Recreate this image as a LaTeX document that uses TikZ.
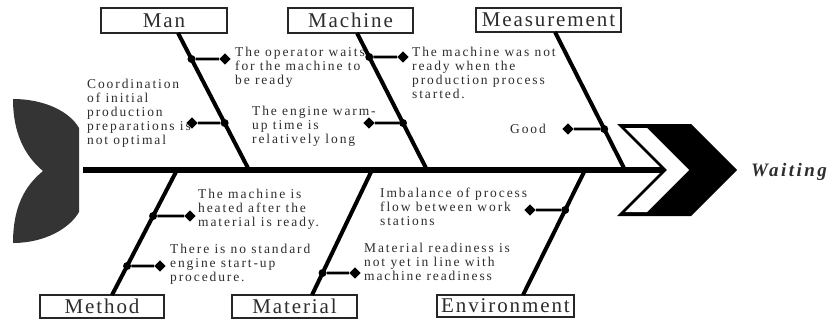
\documentclass[tikz,border=0pt]{standalone}
\usepackage{fontspec}
\setmainfont{Liberation Serif}
\newfontfamily\annfont[LetterSpace=14]{Liberation Serif}
\newfontfamily\labfont[LetterSpace=9]{Liberation Serif}
\newfontfamily\effectfont[LetterSpace=13]{Liberation Serif}
\usetikzlibrary{shapes.geometric,calc}
\definecolor{tailgray}{RGB}{52,52,52}
\definecolor{txtgray}{RGB}{45,45,45}
\tikzset{
  spine/.style={line width=5.5pt},
  bone/.style={line width=4pt},
  twig/.style={line width=2.6pt},
  jdot/.style={circle, fill=black, minimum size=8pt, inner sep=0pt},
  dmd/.style={diamond, fill=black, minimum width=11.5pt, minimum height=11.5pt, inner sep=0pt},
  catbox/.style={draw=black!85, line width=1.3pt, fill=white, inner sep=0pt, text=txtgray,
    font=\labfont\fontsize{21}{24}\selectfont},
  note/.style={anchor=north west, align=left, inner sep=0pt, text=txtgray,
    font=\annfont\fontsize{13.5}{14}\selectfont},
  effectlabel/.style={anchor=base west, inner sep=0pt, text=txtgray,
    font=\effectfont\bfseries\itshape\fontsize{19}{22}\selectfont}
}
\begin{document}
\begin{tikzpicture}[x=1pt,y=-1pt]
\useasboundingbox (0,0) rectangle (832,322);

% tail
\fill[tailgray] (13,99) .. controls (45,99) and (70,112) .. (79,128) -- (79,212)
  .. controls (70,228) and (45,243) .. (13,243)
  .. controls (13,200) and (30,182) .. (43,171)
  .. controls (30,160) and (13,140) .. cycle;

% spine
\coordinate (sp0) at (83,170);
\coordinate (sp1) at (664,170);
\draw[spine] (sp0) -- (sp1);

% head chevrons
\fill (617,124) -- (691,124) -- (737,170) -- (691,216) -- (617,216) -- (663,170) -- cycle;
\fill[white] (625,128) -- (647,128) -- (689,170) -- (647,212) -- (625,212) -- (667,170) -- cycle;
\node[effectlabel] (effect) at (751,176) {Waiting};

% category boxes
\node[catbox, minimum width=126pt, minimum height=25pt] (man) at (164,20.5) {Man};
\node[catbox, minimum width=125pt, minimum height=25pt] (machine) at (350.5,20.5) {Machine};
\node[catbox, minimum width=145pt, minimum height=24pt] (meas) at (548.5,20) {Measurement};
\node[catbox, minimum width=124pt, minimum height=23pt] (method) at (102,306.5) {Method};
\node[catbox, minimum width=125pt, minimum height=23pt] (material) at (294.5,306.5) {Material};
\node[catbox, minimum width=137pt, minimum height=22pt] (env) at (505.5,306) {Environment};

% bone end points
\coordinate (manT) at (178,33);   \coordinate (manS) at (249,170);
\coordinate (macT) at (357,33);   \coordinate (macS) at (427,170);
\coordinate (meaT) at (555,32);   \coordinate (meaS) at (625,170);
\coordinate (metS) at (177,170);  \coordinate (metT) at (112,295);
\coordinate (matS) at (372,170);  \coordinate (matT) at (312,295);
\coordinate (envS) at (585,170);  \coordinate (envT) at (523,295);

\draw[bone] (manT) -- (manS);
\draw[bone] (macT) -- (macS);
\draw[bone] (meaT) -- (meaS);
\draw[bone] (metS) -- (metT);
\draw[bone] (matS) -- (matT);
\draw[bone] (envS) -- (envT);

% junctions
\node[jdot] (j1) at ($(manT)!.19!(manS)$) {};
\node[jdot] (j2) at ($(manT)!.657!(manS)$) {};
\node[jdot] (j3) at ($(macT)!.175!(macS)$) {};
\node[jdot] (j4) at ($(macT)!.657!(macS)$) {};
\node[jdot] (j5) at ($(meaT)!.703!(meaS)$) {};
\node[jdot] (j6) at ($(metS)!.368!(metT)$) {};
\node[jdot] (j7) at ($(metS)!.768!(metT)$) {};
\node[jdot] (j8) at ($(matS)!.824!(matT)$) {};
\node[jdot] (j9) at ($(envS)!.32!(envT)$) {};

% diamonds
\node[dmd] (d1) at (225,59) {};
\node[dmd] (d2) at (192,123) {};
\node[dmd] (d3) at (403,57) {};
\node[dmd] (d4) at (369,123) {};
\node[dmd] (d5) at (568,129) {};
\node[dmd] (d6) at (190,216) {};
\node[dmd] (d7) at (160,266) {};
\node[dmd] (d8) at (355,273) {};
\node[dmd] (d9) at (530,210) {};

\draw[twig] (j1) -- (d1);
\draw[twig] (j2) -- (d2);
\draw[twig] (j3) -- (d3);
\draw[twig] (j4) -- (d4);
\draw[twig] (j5) -- (d5);
\draw[twig] (j6) -- (d6);
\draw[twig] (j7) -- (d7);
\draw[twig] (j8) -- (d8);
\draw[twig] (j9) -- (d9);

% notes
\node[note] (t1) at (235,47) {The operator waits\\for the machine to\\be ready};
\node[note] (t2) at (87,79) {Coordination\\of initial\\production\\preparations is\\not optimal};
\node[note] (t3) at (252,106) {The engine warm-\\up time is\\relatively long};
\node[note] (t4) at (412,47) {The machine was not\\ready when the\\production process\\started.};
\node[note] (t5) at (510,124) {Good};
\node[note] (t6) at (198,189) {The machine is\\heated after the\\material is ready.};
\node[note] (t7) at (170,244) {There is no standard\\engine start-up\\procedure.};
\node[note] (t8) at (380,188) {Imbalance of process\\flow between work\\stations};
\node[note] (t9) at (364,243) {Material readiness is\\not yet in line with\\machine readiness};
\end{tikzpicture}
\end{document}
